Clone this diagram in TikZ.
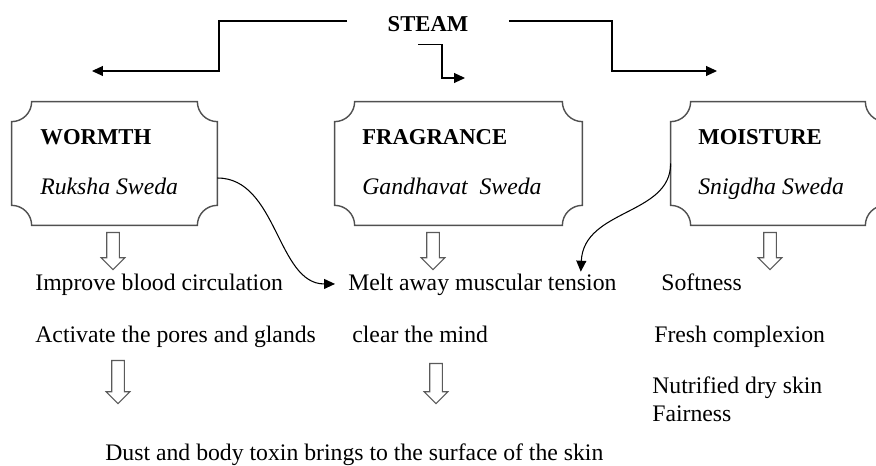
\documentclass[tikz,border=0pt]{standalone}
\usepackage{fontspec}
\setmainfont{Liberation Serif}
\usepackage{tikz}
\usetikzlibrary{arrows.meta,positioning,calc,fit,shapes.arrows}
\definecolor{plaquegray}{HTML}{505050}
\definecolor{hollowgray}{HTML}{5A5A5A}
\newcommand{\plaque}[1]{%
  \draw[plaque line] ([xshift=0.4cm]#1.north west) -- ([xshift=-0.4cm]#1.north east)
    arc[start angle=180, end angle=270, radius=0.4cm] -- ([yshift=0.4cm]#1.south east)
    arc[start angle=90, end angle=180, radius=0.4cm] -- ([xshift=0.4cm]#1.south west)
    arc[start angle=0, end angle=90, radius=0.4cm] -- ([yshift=-0.4cm]#1.north west)
    arc[start angle=270, end angle=360, radius=0.4cm] -- cycle;}

\begin{document}
\begin{tikzpicture}[x=0.02cm, y=0.02cm,
  txt/.style={inner sep=0, text height=0.68em, text depth=0.22em, anchor=base west,
    font=\fontsize{13.5}{16}\selectfont},
  title/.style={txt, font=\fontsize{12.9}{15}\selectfont\bfseries},
  sweda/.style={txt, font=\fontsize{13.5}{16}\selectfont\itshape},
  box area/.style={inner sep=0},
  plaque line/.style={draw=plaquegray, line width=0.8pt},
  elbow/.style={-{Triangle[length=0.22cm,width=0.2cm]}, line width=0.6pt},
  curve/.style={-{Triangle[length=0.22cm,width=0.2cm]}, line width=0.6pt},
  hollow/.style={single arrow, draw=hollowgray, line width=0.6pt, shape border rotate=270,
    single arrow head extend=0.11cm, inner sep=0.115cm, anchor=tail}]
\useasboundingbox (0,0) rectangle (876,466);

\node[font=\fontsize{12.9}{15}\selectfont\bfseries, inner sep=0, minimum width=3.22cm,
  minimum height=0.92cm, text height=12.5pt, text depth=0pt] (steam) at (428,445) {STEAM};

\node[box area, fit={(12,241) (217,364)}] (wormth) {};
\node[box area, fit={(335,241) (582,364)}] (fragrance) {};
\node[box area, fit={(671,241) (885,364)}] (moisture) {};
\plaque{wormth}
\plaque{fragrance}
\plaque{moisture}

\node[title] (wormth title) at (40,321) {WORMTH};
\node[sweda] (ruksha) at (40,271) {Ruksha Sweda};
\node[title] (fragrance title) at (362,321) {FRAGRANCE};
\node[sweda] (gandhavat) at (362,271) {Gandhavat\ \ Sweda};
\node[title] (moisture title) at (698,321) {MOISTURE};
\node[sweda] (snigdha) at (698,271) {Snigdha Sweda};

\coordinate (wormth in) at (92,395);
\coordinate (fragrance in) at (465,388);
\coordinate (moisture in) at (717,395);
\draw[elbow] (steam.west) -| (219,395) -- (wormth in);
\draw[elbow] ([xshift=-0.2cm]steam.south) -| (442,388) -- (fragrance in);
\draw[elbow] (steam.east) -| (612,395) -- (moisture in);

\node[hollow, minimum height=0.74cm] (wormth down) at (113,234) {};
\node[hollow, minimum height=0.74cm] (fragrance down) at (433,234) {};
\node[hollow, minimum height=0.74cm] (moisture down) at (770,234) {};

\node[txt] (improve) at (35,175) {Improve blood circulation};
\node[txt] (melt) at (348,175) {Melt away muscular tension};
\node[txt] (softness) at (661,175) {Softness};
\node[txt] (activate) at (35,123) {Activate the pores and glands};
\node[txt] (clearmind) at (352,123) {clear the mind};
\node[txt] (fresh) at (654,123) {Fresh complexion};
\node[txt] (nutrified) at (652,72) {Nutrified dry skin};
\node[txt] (fairness) at (652,44) {Fairness};

\draw[curve] ([yshift=-0.29cm]wormth.east) .. controls +(60,0) and +(-58,0) ..
  ([shift={(-13,3)}]melt.west);
\draw[curve] (moisture.west) .. controls +(0,-52) and +(3,63) ..
  ([shift={(-36,7)}]melt.north east);

\node[hollow, minimum height=0.86cm] (activate down) at (118,106) {};
\node[hollow, minimum height=0.8cm] (clearmind down) at (436,103) {};

\node[txt] (dust) at (105,5.5) {Dust and body toxin brings to the surface of the skin};
\end{tikzpicture}
\end{document}
